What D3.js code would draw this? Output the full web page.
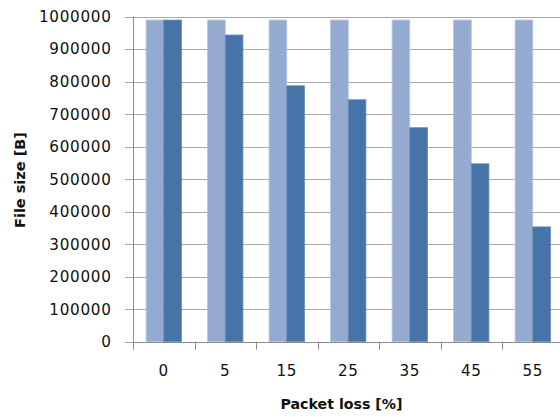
<!DOCTYPE html>
<html>
<head>
<meta charset="utf-8">
<script src="https://cdn.jsdelivr.net/npm/d3@7"></script>
<style>
  body { margin: 0; background: #fff; }
  svg { display: block; }
</style>
</head>
<body>
<div id="chart"></div>
<script>
// packet loss categories and file sizes
const lossLevels = ["0", "5", "15", "25", "35", "45", "55"];
const originalSize = [989000, 989000, 989000, 989000, 989000, 989000, 989000];
const receivedSize = [989000, 943000, 787000, 744000, 658000, 547000, 353000];
const yTicks = [0, 100000, 200000, 300000, 400000, 500000, 600000, 700000, 800000, 900000, 1000000];

const seriesNames = ["original", "received"];
const seriesColors = ["#95aad1", "#4673a8"];
const seriesStroke = ["#b4c3e1", "#6489b9"];

const width = 560, height = 417;
// plot area runs a little past the right edge of the window, like the reference
const margin = {top: 16.5, left: 133, bottom: 417 - 341.7};
const plotRight = 563.5;

const svg = d3.select("#chart").append("svg")
    .attr("width", width)
    .attr("height", height);

const x = d3.scaleBand()
    .domain(lossLevels)
    .range([margin.left, plotRight]);

const y = d3.scaleLinear()
    .domain([0, 1000000])
    .range([height - margin.bottom, margin.top]);

const groupW = x.bandwidth() * 0.574;
const xs = d3.scaleBand()
    .domain(seriesNames)
    .range([0, groupW]);

// gridlines + small tick marks left of the axis
svg.append("g")
    .selectAll("line")
    .data(yTicks)
    .join("line")
    .attr("x1", margin.left - 8)
    .attr("x2", plotRight)
    .attr("y1", d => Math.round(y(d)) + 0.5)
    .attr("y2", d => Math.round(y(d)) + 0.5)
    .attr("stroke", "#a8a8a8")
    .attr("stroke-width", 1);

// y tick labels
svg.append("g")
    .selectAll("text")
    .data(yTicks)
    .join("text")
    .attr("x", 111.5)
    .attr("y", d => y(d))
    .attr("dy", "0.36em")
    .attr("text-anchor", "end")
    .attr("font-family", "DejaVu Sans")
    .attr("font-size", "15.2px")
    .attr("letter-spacing", "0.7px")
    .attr("fill", "#111")
    .text(d => d);

// bars
const rows = lossLevels.map((k, i) => ({key: k, vals: [originalSize[i], receivedSize[i]]}));

const groups = svg.append("g")
    .selectAll("g")
    .data(rows)
    .join("g")
    .attr("transform", d => "translate(" + (x(d.key) + (x.bandwidth() - groupW) / 2) + ",0)");

groups.selectAll("rect")
    .data(d => d.vals.map((v, j) => ({name: seriesNames[j], value: v, j: j})))
    .join("rect")
    .attr("x", d => xs(d.name))
    .attr("y", d => y(d.value))
    .attr("width", xs.bandwidth())
    .attr("height", d => y(0) - y(d.value))
    .attr("fill", d => seriesColors[d.j])
    .attr("stroke", d => seriesStroke[d.j])
    .attr("stroke-width", 0.8);

// y axis line
svg.append("line")
    .attr("x1", margin.left + 0.5)
    .attr("x2", margin.left + 0.5)
    .attr("y1", y(1000000))
    .attr("y2", y(0))
    .attr("stroke", "#8c8c8c");

// x axis line and ticks between categories
svg.append("line")
    .attr("x1", margin.left)
    .attr("x2", plotRight)
    .attr("y1", Math.round(y(0)) + 0.5)
    .attr("y2", Math.round(y(0)) + 0.5)
    .attr("stroke", "#8c8c8c");

svg.append("g")
    .selectAll("line")
    .data(lossLevels)
    .join("line")
    .attr("x1", d => Math.round(x(d)) + 0.5)
    .attr("x2", d => Math.round(x(d)) + 0.5)
    .attr("y1", y(0))
    .attr("y2", y(0) + 8)
    .attr("stroke", "#8c8c8c");

// x tick labels
svg.append("g")
    .selectAll("text")
    .data(lossLevels)
    .join("text")
    .attr("x", d => x(d) + x.bandwidth() / 2)
    .attr("y", 376)
    .attr("text-anchor", "middle")
    .attr("font-family", "DejaVu Sans")
    .attr("font-size", "15.2px")
    .attr("letter-spacing", "0.7px")
    .attr("fill", "#111")
    .text(d => d);

// axis titles
svg.append("text")
    .attr("x", 341.5)
    .attr("y", 409)
    .attr("text-anchor", "middle")
    .attr("font-family", "DejaVu Sans")
    .attr("font-weight", "bold")
    .attr("font-size", "14.2px")
    .attr("fill", "#111")
    .text("Packet loss [%]");

svg.append("text")
    .attr("transform", "translate(25,180) rotate(-90)")
    .attr("text-anchor", "middle")
    .attr("font-family", "DejaVu Sans")
    .attr("font-weight", "bold")
    .attr("font-size", "14.5px")
    .attr("fill", "#111")
    .text("File size [B]");
</script>
</body>
</html>
